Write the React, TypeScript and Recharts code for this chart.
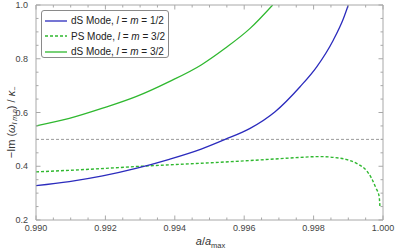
import { LineChart, Line, XAxis, YAxis, ReferenceLine } from 'recharts'

// a/a_max, -Im(omega)/kappa
const dsHalfA = [0.99, 0.99096, 0.99192, 0.99288, 0.99384, 0.99476, 0.99545, 0.99617, 0.99689, 0.99761, 0.99809, 0.99857, 0.99886, 0.999]
const dsHalfV = [0.328, 0.343, 0.364, 0.392, 0.426, 0.464, 0.5, 0.541, 0.603, 0.696, 0.77, 0.87, 0.95, 1.0]

const psA = [0.99, 0.99158, 0.99317, 0.99476, 0.996, 0.997, 0.99761, 0.99818, 0.99857, 0.99905, 0.99929, 0.99953, 0.99967, 0.9998, 0.99989, 0.99991]
const psV = [0.379, 0.389, 0.401, 0.411, 0.42, 0.428, 0.433, 0.436, 0.433, 0.421, 0.407, 0.383, 0.355, 0.318, 0.287, 0.252]

const dsThreeA = [0.99, 0.99096, 0.99192, 0.99288, 0.99384, 0.99476, 0.99545, 0.99617, 0.99682]
const dsThreeV = [0.55, 0.578, 0.616, 0.659, 0.715, 0.777, 0.839, 0.913, 1.0]

const xMajor = [0.99, 0.992, 0.994, 0.996, 0.998, 1.0]
const yMajor = [0.2, 0.4, 0.6, 0.8, 1.0]
const xLabels = ['0.990', '0.992', '0.994', '0.996', '0.998', '1.000']
const yLabels = ['0.2', '0.4', '0.6', '0.8', '1.0']

const pair = (a: number[], v: number[]) => a.map((x, i) => ({ a: x, v: v[i] }))
const dsHalf = pair(dsHalfA, dsHalfV)
const ps = pair(psA, psV)
const dsThree = pair(dsThreeA, dsThreeV)

// minor ticks between the majors
const xTicks: number[] = []
for (let i = 0; i <= 20; i++) xTicks.push(Math.round((0.99 + i * 0.0005) * 1e5) / 1e5)
const yTicks: number[] = []
for (let i = 0; i <= 16; i++) yTicks.push(Math.round((0.2 + i * 0.05) * 100) / 100)

const BLUE = '#2b2bbd'
const GREEN = '#2fb82f'
const FRAME = '#a8a8a8'
const FONT = '"Liberation Sans", Arial, sans-serif'

const isMajor = (list: number[], v: number) => list.findIndex((m) => Math.abs(m - v) < 1e-7)

const Tick = ({ x, y, payload, side }: any) => {
  const idx = side === 'bottom' || side === 'top' ? isMajor(xMajor, payload.value) : isMajor(yMajor, payload.value)
  const len = idx >= 0 ? 4.5 : 2.5
  let line
  if (side === 'bottom') line = <line x1={x} x2={x} y1={y} y2={y - len} stroke={FRAME} />
  else if (side === 'top') line = <line x1={x} x2={x} y1={y} y2={y + len} stroke={FRAME} />
  else if (side === 'left') line = <line x1={x} x2={x + len} y1={y} y2={y} stroke={FRAME} />
  else line = <line x1={x} x2={x - len} y1={y} y2={y} stroke={FRAME} />
  let label = null
  if (idx >= 0 && side === 'bottom')
    label = (
      <text x={x} y={y + 10.5} textAnchor="middle" fontSize={9} fill="#444" fontFamily={FONT}>
        {xLabels[idx]}
      </text>
    )
  if (idx >= 0 && side === 'left')
    label = (
      <text x={x - 8} y={y + 3.2} textAnchor="end" fontSize={9} fill="#444" fontFamily={FONT}>
        {yLabels[idx]}
      </text>
    )
  return (
    <g>
      {line}
      {label}
    </g>
  )
}

const YLabel = ({ viewBox }: any) => {
  const cx = 12
  const cy = viewBox.y + viewBox.height / 2 + 10
  return (
    <text transform={`translate(${cx},${cy}) rotate(-90)`} textAnchor="middle" fontSize={11} fill="#333" fontFamily={FONT} dominantBaseline="middle">
      <tspan>−Im (</tspan>
      <tspan fontStyle="italic">ω</tspan>
      <tspan fontSize={7} fontStyle="italic" dy={2.5}>l m n</tspan>
      <tspan dy={-2.5}>) / </tspan>
      <tspan fontStyle="italic">κ</tspan>
      <tspan fontSize={7} dy={2.5}>−</tspan>
    </text>
  )
}

const XLabel = ({ viewBox }: any) => (
  <text x={viewBox.x + viewBox.width / 2 + 1} y={245} textAnchor="middle" fontSize={11} fill="#333" fontFamily={FONT}>
    <tspan fontStyle="italic">a</tspan>
    <tspan>/</tspan>
    <tspan fontStyle="italic">a</tspan>
    <tspan fontSize={7.5} dy={2.5}>max</tspan>
  </text>
)

const legendRows = [
  { color: BLUE, dash: false, name: 'dS Mode, ', val: '1/2' },
  { color: GREEN, dash: true, name: 'PS Mode, ', val: '3/2' },
  { color: GREEN, dash: false, name: 'dS Mode, ', val: '3/2' },
]

export default function App() {
  return (
    <div style={{ position: 'absolute', left: 0, top: 0, width: 401, height: 248, background: '#fff' }}>
      <LineChart width={401} height={248} data={dsHalf} margin={{ top: 4, right: 17, left: 0, bottom: 0 }}>
        <XAxis
          xAxisId="b"
          type="number"
          dataKey="a"
          domain={[0.99, 1.0]}
          ticks={xTicks}
          interval={0}
          tickSize={0}
          tickMargin={0}
          height={28}
          stroke={FRAME}
          tick={<Tick side="bottom" />}
          label={<XLabel />}
          allowDataOverflow
        />
        <XAxis
          xAxisId="t"
          orientation="top"
          type="number"
          dataKey="a"
          domain={[0.99, 1.0]}
          ticks={xTicks}
          interval={0}
          tickSize={0}
          tickMargin={0}
          height={1}
          stroke={FRAME}
          tick={<Tick side="top" />}
          allowDataOverflow
        />
        <YAxis
          yAxisId="l"
          type="number"
          domain={[0.2, 1.0]}
          ticks={yTicks}
          interval={0}
          tickSize={0}
          tickMargin={0}
          width={36}
          stroke={FRAME}
          tick={<Tick side="left" />}
          label={<YLabel />}
          allowDataOverflow
        />
        <YAxis
          yAxisId="r"
          orientation="right"
          type="number"
          domain={[0.2, 1.0]}
          ticks={yTicks}
          interval={0}
          tickSize={0}
          tickMargin={0}
          width={1}
          stroke={FRAME}
          tick={<Tick side="right" />}
          allowDataOverflow
        />
        <ReferenceLine xAxisId="b" yAxisId="l" y={0.5} stroke="#9a9a9a" strokeDasharray="3 2" />
        <Line xAxisId="b" yAxisId="l" data={dsThree} dataKey="v" type="monotone" stroke={GREEN} strokeWidth={1.3} dot={false} isAnimationActive={false} />
        <Line xAxisId="b" yAxisId="l" data={ps} dataKey="v" type="monotone" stroke={GREEN} strokeWidth={1.4} strokeDasharray="3 2" dot={false} isAnimationActive={false} />
        <Line xAxisId="b" yAxisId="l" data={dsHalf} dataKey="v" type="monotone" stroke={BLUE} strokeWidth={1.3} dot={false} isAnimationActive={false} />
      </LineChart>
      <div
        style={{
          position: 'absolute',
          left: 41,
          top: 10,
          width: 126,
          height: 46,
          border: '1px solid #8a8a8a',
          borderRadius: 3,
          background: '#fff',
          fontFamily: FONT,
          fontSize: 10,
          color: '#222',
          boxSizing: 'content-box',
        }}
      >
        {legendRows.map((r, i) => (
          <div key={i} style={{ position: 'absolute', left: 3, top: 2 + i * 15.5, height: 15, display: 'flex', alignItems: 'center', whiteSpace: 'nowrap' }}>
            <svg width={22} height={4} style={{ marginRight: 4 }}>
              <line x1={0} x2={22} y1={2} y2={2} stroke={r.color} strokeWidth={1.3} strokeDasharray={r.dash ? '3 2' : undefined} />
            </svg>
            <span>
              {r.name}
              <i>l</i> = <i>m</i> = {r.val}
            </span>
          </div>
        ))}
      </div>
    </div>
  )
}
